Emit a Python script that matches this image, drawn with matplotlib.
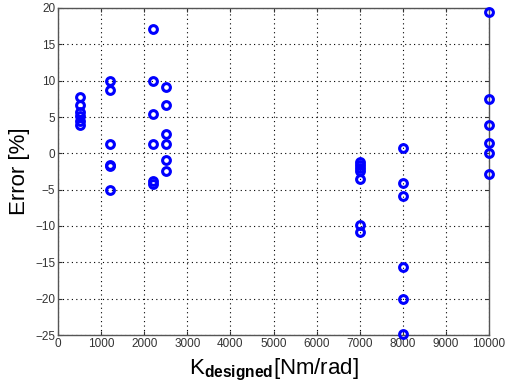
import numpy
from matplotlib import pyplot

pyplot.rcParams['font.family'] = ['Liberation Sans', 'DejaVu Sans']
pyplot.rcParams['mathtext.fontset'] = 'custom'
pyplot.rcParams['mathtext.rm'] = 'Liberation Sans'
pyplot.rcParams['mathtext.bf'] = 'Liberation Sans:bold'

# designed stiffness [Nm/rad] and measured error [%]
k_500 = [7.7, 6.6, 5.7, 5.1, 4.5, 3.9]
k_1200 = [10.0, 8.7, 1.3, -1.6, -1.8, -5.1]
k_2200 = [17.1, 10.0, 5.4, 1.3, -3.8, -4.2]
k_2500 = [9.1, 6.6, 2.6, 1.3, -0.9, -2.4]
k_7000 = [-1.2, -1.6, -2.0, -2.5, -3.5, -9.8, -10.8]
k_8000 = [0.7, -4.1, -5.9, -15.7, -20.0, -24.9]
k_10000 = [19.4, 7.5, 3.9, 1.4, 0.1, -2.8]

k_designed = [500, 1200, 2200, 2500, 7000, 8000, 10000]
errors = [k_500, k_1200, k_2200, k_2500, k_7000, k_8000, k_10000]

x = []
y = []
for k, e in zip(k_designed, errors):
    x += [k] * len(e)
    y += e

fig = pyplot.figure(figsize=(5.06, 3.92), dpi=100)
ax = fig.add_axes([58 / 506, 57 / 392, 431 / 506, 327 / 392])

ax.plot(x, y, linestyle='none', marker='o', markersize=5.6, markeredgewidth=2.2,
        markerfacecolor='none', markeredgecolor='#0000ff', clip_on=False, zorder=5)

ax.set_xlim(0, 10000)
ax.set_ylim(-25, 20)
ax.set_xticks(numpy.arange(0, 10001, 1000))
ax.set_yticks(numpy.arange(-25, 21, 5))
ax.grid(True, linestyle=(0, (1, 3)), color='black', linewidth=0.8)
ax.tick_params(direction='in', top=True, right=True, labelsize=8.5, length=3,
               colors='#333333', pad=2)
for s in ax.spines.values():
    s.set_color('#555555')
    s.set_linewidth(1.0)

ax.set_ylabel('Error [%]', fontsize=16, labelpad=4)
ax.set_xlabel(r'K$_{\mathbf{designed}}$[Nm/rad]', fontsize=16, labelpad=5)

pyplot.savefig('out.png', dpi=100)
